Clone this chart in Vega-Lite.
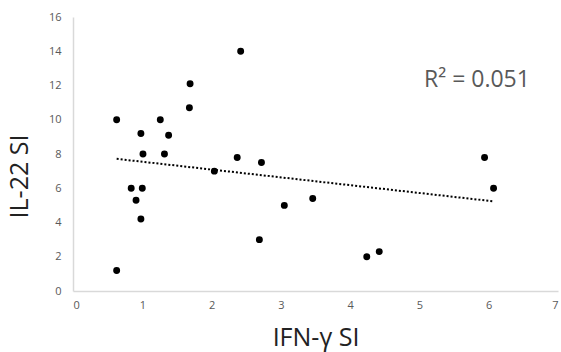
{
  "$schema": "https://vega.github.io/schema/vega-lite/v6.json",
  "autosize": "none",
  "width": 485,
  "height": 274,
  "padding": {"left": 73, "top": 17, "right": 3, "bottom": 61},
  "background": "white",
  "config": {"view": {"stroke": null}, "font": "Open Sans"},
  "data": {"values": [
    {"x": 0.63, "y": 10},
    {"x": 0.98, "y": 9.2},
    {"x": 1.01, "y": 8},
    {"x": 1.26, "y": 10},
    {"x": 1.38, "y": 9.1},
    {"x": 1.32, "y": 8},
    {"x": 1.69, "y": 12.1},
    {"x": 1.68, "y": 10.7},
    {"x": 2.42, "y": 14},
    {"x": 2.37, "y": 7.8},
    {"x": 2.72, "y": 7.5},
    {"x": 2.04, "y": 7.0},
    {"x": 0.84, "y": 6},
    {"x": 1.0, "y": 6},
    {"x": 0.91, "y": 5.3},
    {"x": 0.98, "y": 4.2},
    {"x": 0.63, "y": 1.2},
    {"x": 2.69, "y": 3},
    {"x": 5.94, "y": 7.8},
    {"x": 3.05, "y": 5},
    {"x": 3.46, "y": 5.4},
    {"x": 4.24, "y": 2},
    {"x": 4.42, "y": 2.3},
    {"x": 6.07, "y": 6}
  ]},
  "encoding": {
    "x": {
      "field": "x", "type": "quantitative",
      "scale": {"domain": [0, 7], "nice": false},
      "axis": {
        "title": "IFN-γ SI", "values": [0,1,2,3,4,5,6,7], "format": "d", "labelOverlap": false,
        "grid": false, "ticks": false, "domainColor": "#d9d9d9", "domainWidth": 1.5,
        "labelColor": "#595959", "labelFontSize": 11, "labelPadding": 8,
        "titleFontSize": 25, "titleFontWeight": "normal", "titleColor": "#222222",
        "titleBaseline": "middle", "titleY": 46
      }
    },
    "y": {
      "field": "y", "type": "quantitative",
      "scale": {"domain": [0, 16], "nice": false},
      "axis": {
        "title": "IL-22 SI", "values": [0,2,4,6,8,10,12,14,16], "format": "d", "labelOverlap": false,
        "grid": false, "ticks": false, "domainColor": "#d9d9d9", "domainWidth": 1.5,
        "labelColor": "#595959", "labelFontSize": 11, "labelPadding": 12,
        "titleFontSize": 25, "titleFontWeight": "normal", "titleColor": "#222222",
        "titleAngle": -90, "titleAlign": "center", "titleBaseline": "middle",
        "titleX": -54, "titleY": 159
      }
    }
  },
  "layer": [
    {
      "mark": {"type": "circle", "color": "black", "opacity": 1, "size": 48}
    },
    {
      "transform": [{"regression": "y", "on": "x"}],
      "mark": {"type": "line", "color": "black", "strokeWidth": 2, "strokeDash": [2, 2]}
    },
    {
      "data": {"values": [{"x": 5.83, "y": 12.3, "label": "R² = 0.051"}]},
      "mark": {"type": "text", "fontSize": 23, "color": "#595959", "align": "center", "baseline": "middle"},
      "encoding": {
        "text": {"field": "label"}
      }
    }
  ]
}
